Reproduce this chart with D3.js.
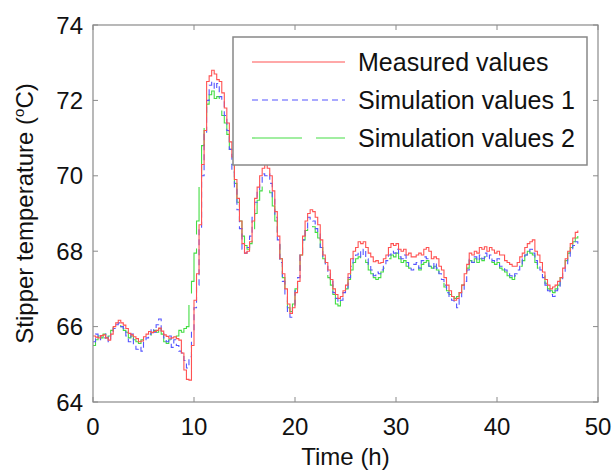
<!DOCTYPE html>
<html>
<head>
<meta charset="utf-8">
<script src="https://cdn.jsdelivr.net/npm/d3@7"></script>
<style>
  body { margin: 0; background: #fff; }
  svg { font-family: "Liberation Sans", Arial, sans-serif; }
  .tick-label { font-size: 24px; fill: #111; }
  .axis-label { font-size: 24px; fill: #111; }
  .legend-text { font-size: 25px; fill: #111; }
</style>
</head>
<body>
<div id="chart"></div>
<script>

// sampling of the three series: one value every quarter hour, from 0 h to 48 h
var startHour = 0, stepHour = 0.25;

var measured = [
  65.75, 65.72, 65.7, 65.76, 65.78, 65.7, 65.64, 65.8,
  66.0, 66.1, 66.17, 66.1, 66.04, 65.95, 65.82, 65.78,
  65.73, 65.68, 65.6, 65.62, 65.73, 65.8, 65.87, 65.84,
  65.87, 65.9, 65.96, 65.88, 65.78, 65.74, 65.69, 65.7,
  65.73, 65.68, 65.64, 65.3, 64.85, 64.6, 64.58, 65.5,
  66.7, 67.4, 68.7, 70.3, 71.2, 72.5, 72.65, 72.8,
  72.7, 72.55, 72.5, 72.2, 71.8, 71.4, 70.9, 70.5,
  69.9, 69.4, 68.8, 68.2, 67.95, 68.0, 68.25, 68.8,
  69.4, 69.7, 70.0, 70.2, 70.3, 70.2, 70.0, 69.6,
  69.05, 68.4, 67.8, 67.4, 67.0, 66.6, 66.35, 66.5,
  66.9, 67.2, 67.9, 68.4, 68.8, 69.0, 69.1, 69.05,
  68.9, 68.7, 68.3, 67.9, 67.7, 67.5, 67.25, 67.0,
  66.85, 66.75, 66.8, 66.95, 67.1, 67.4, 67.8, 68.0,
  68.1, 68.25, 68.2, 68.25, 68.1, 67.95, 67.85, 67.72,
  67.75, 67.68, 67.7, 67.8, 67.9, 68.1, 68.2, 68.15,
  68.2, 68.05, 68.0, 68.05, 67.9, 67.95, 67.85, 67.85,
  67.9, 67.95, 67.9, 68.05, 68.1, 68.0, 67.8, 67.85,
  67.8, 67.6, 67.5, 67.3, 67.1, 66.95, 66.8, 66.7,
  66.75, 66.9, 67.1, 67.4, 67.65, 67.95, 67.9, 68.0,
  67.95, 68.1, 68.05, 68.12, 68.0, 68.1, 68.03, 67.95,
  68.0, 67.9, 67.9, 67.75, 67.7, 67.65, 67.6, 67.6,
  67.7, 67.85, 67.95, 68.1, 68.2, 68.25, 68.3, 68.0,
  67.9, 67.7, 67.45, 67.25, 67.1, 67.0, 67.05, 67.1,
  67.2, 67.3, 67.55, 67.8, 68.0, 68.2, 68.35, 68.5,
  68.55
];

var simulation1 = [
  65.6, 65.8, 65.65, 65.75, 65.7, 65.8, 65.6, 65.85,
  65.95, 66.05, 66.1, 66.0, 65.95, 65.75, 65.6, 65.8,
  65.5, 65.4, 65.45, 65.35, 65.6, 65.7, 65.8, 65.95,
  65.85, 66.05, 66.2, 65.85, 65.7, 65.6, 65.75, 65.45,
  65.65, 65.5, 65.35, 65.3, 65.1, 64.9, 65.2, 65.9,
  66.5, 67.1, 68.6, 70.0, 71.1, 72.0, 72.4, 72.5,
  72.3, 72.45, 72.1, 72.0, 71.6, 71.2, 70.7, 70.1,
  69.7, 69.1, 68.6, 68.05, 67.95, 68.1, 68.4, 68.9,
  69.3, 69.6, 69.8, 70.05, 70.0, 70.05, 69.8, 69.4,
  68.9, 68.3, 67.7, 67.2, 66.8, 66.4, 66.25, 66.5,
  66.95, 67.3, 67.9, 68.3, 68.6, 68.9, 68.85, 68.8,
  68.6, 68.5, 68.1, 67.8, 67.6, 67.4, 67.2, 66.9,
  66.75, 66.65, 66.7, 66.9, 67.0, 67.3, 67.6, 67.8,
  67.9, 68.0, 67.85, 68.05, 67.8, 67.65, 67.5, 67.35,
  67.45, 67.4, 67.5, 67.6, 67.75, 67.9, 68.0, 67.95,
  68.05, 67.85, 67.8, 67.9, 67.7, 67.6, 67.5, 67.65,
  67.7, 67.55, 67.75, 67.85, 67.8, 67.6, 67.55, 67.7,
  67.55, 67.4, 67.25, 67.1, 66.9, 66.8, 66.7, 66.6,
  66.5, 66.75, 66.95, 67.2, 67.5, 67.8, 67.7, 67.85,
  67.75, 67.9, 67.8, 67.95, 67.8, 67.9, 67.75, 67.7,
  67.8, 67.6, 67.55, 67.5, 67.4, 67.35, 67.3, 67.4,
  67.5, 67.6, 67.8, 67.9, 68.0, 68.05, 67.95, 67.75,
  67.6, 67.5, 67.3, 67.1, 66.95, 66.85, 66.8, 66.95,
  67.0, 67.2, 67.45, 67.6, 67.85, 68.0, 68.15, 68.25,
  68.2
];

var simulation2 = [
  65.5, 65.65, 65.75, 65.7, 65.8, 65.7, 65.75, 65.9,
  66.0, 66.1, 66.05, 66.0, 65.9, 65.85, 65.7, 65.75,
  65.65, 65.6, 65.55, 65.65, 65.7, 65.8, 65.75, 65.85,
  65.9, 65.85, 65.95, 65.8, 65.6, 65.55, 65.65, 65.8,
  65.7, 65.75, 65.9, 65.85, 65.95, 66.0, 66.6, 67.2,
  67.95, 68.8, 69.9, 70.8, 71.4, 71.9, 72.15, 72.25,
  72.05, 72.1, 71.85, 71.6, 71.4, 71.1, 70.7, 70.3,
  69.8, 69.3, 68.8, 68.4, 68.15, 68.05, 68.2, 68.6,
  69.0, 69.35, 69.6, 69.7, 69.75, 69.7, 69.55, 69.2,
  68.8, 68.3, 67.8, 67.3, 66.9, 66.5, 66.4, 66.6,
  67.0, 67.4, 67.9, 68.3, 68.55, 68.7, 68.75, 68.65,
  68.5, 68.35, 68.1, 67.8, 67.55, 67.3, 67.1, 66.85,
  66.6, 66.55, 66.75, 66.85, 67.0, 67.25, 67.5, 67.7,
  67.8, 67.85, 67.8, 67.9, 67.7, 67.5, 67.4, 67.3,
  67.25, 67.3, 67.45, 67.55, 67.7, 67.8, 67.9, 67.85,
  67.95, 67.8, 67.7, 67.75, 67.6, 67.55, 67.5, 67.55,
  67.6, 67.5, 67.65, 67.7, 67.75, 67.6, 67.55, 67.6,
  67.5, 67.35, 67.2, 67.05, 66.95, 66.85, 66.8, 66.75,
  66.8, 66.9, 67.1, 67.35, 67.55, 67.75, 67.7, 67.8,
  67.7, 67.8, 67.75, 67.85, 67.75, 67.8, 67.7, 67.65,
  67.7, 67.55, 67.5, 67.45, 67.35, 67.3, 67.25, 67.35,
  67.45, 67.6, 67.75, 67.9, 68.0, 67.95, 67.9, 67.7,
  67.55, 67.45, 67.35, 67.15, 67.0, 66.95, 66.9, 67.0,
  67.1, 67.3, 67.55, 67.75, 67.95, 68.1, 68.25, 68.35,
  68.4
];

var seriesNames = ["Measured values", "Simulation values 1", "Simulation values 2"];
var seriesColors = ["#ff5252", "#5555ff", "#44dd44"];
var seriesDashes = [null, "6,4", "50,14"];

var xTicks = [0, 10, 20, 30, 40, 50];
var yTicks = [64, 66, 68, 70, 72, 74];

/////////////////////////

var W = 615, H = 473;
var margin = {top:25, right:17, bottom:71, left:93},
    width = W - margin.left - margin.right,
    height = H - margin.top - margin.bottom;

var x = d3.scaleLinear().domain([0, 50]).range([0, width]);
var y = d3.scaleLinear().domain([64, 74]).range([height, 0]);

var svg = d3.select("#chart").append("svg")
    .attr("width", W)
    .attr("height", H);

var chart = svg.append("g")
    .attr("transform", "translate(" + margin.left + "," + margin.top + ")");

// the lines (logged values are stair-stepped)
var pathline = d3.line()
    .curve(d3.curveStepAfter)
    .x(function(d){ return x(d.t); })
    .y(function(d){ return y(d.v); });

var lines = [measured, simulation1, simulation2].map(function(values, i){
  return {
    name: seriesNames[i],
    color: seriesColors[i],
    dash: seriesDashes[i],
    series: values.map(function(v, k){ return {t: startHour + k*stepHour, v: v}; })
  };
});

var lineContainer = chart.append("g");
// draw last series first so measured stays on top
lineContainer.selectAll("path").data(lines.slice().reverse()).enter().append("path")
    .attr("d", function(d){ return pathline(d.series); })
    .attr("fill", "none")
    .attr("stroke", function(d){ return d.color; })
    .attr("stroke-width", 1.1)
    .attr("stroke-dasharray", function(d){ return d.dash; });

// box + ticks on all four sides (inward)
var frameColor = "#8a8a8a", tickLen = 5;
chart.append("rect")
    .attr("x", 0).attr("y", 0)
    .attr("width", width).attr("height", height)
    .attr("fill", "none")
    .attr("stroke", frameColor)
    .attr("stroke-width", 1.2);

var axisG = chart.append("g").attr("stroke", frameColor).attr("stroke-width", 1);
xTicks.forEach(function(t){
  axisG.append("line").attr("x1", x(t)).attr("x2", x(t)).attr("y1", height).attr("y2", height - tickLen);
  axisG.append("line").attr("x1", x(t)).attr("x2", x(t)).attr("y1", 0).attr("y2", tickLen);
});
yTicks.forEach(function(v){
  axisG.append("line").attr("x1", 0).attr("x2", tickLen).attr("y1", y(v)).attr("y2", y(v));
  axisG.append("line").attr("x1", width).attr("x2", width - tickLen).attr("y1", y(v)).attr("y2", y(v));
});

// tick labels
chart.selectAll(".xlab").data(xTicks).enter().append("text")
    .attr("class", "tick-label")
    .attr("x", function(d){ return x(d); })
    .attr("y", height + 33)
    .attr("text-anchor", "middle")
    .text(function(d){ return d; });

chart.selectAll(".ylab").data(yTicks).enter().append("text")
    .attr("class", "tick-label")
    .attr("x", -10)
    .attr("y", function(d){ return y(d) + 8.5; })
    .attr("text-anchor", "end")
    .text(function(d){ return d; });

// axis labels
chart.append("text")
    .attr("class", "axis-label")
    .attr("x", width/2)
    .attr("y", height + 63)
    .attr("text-anchor", "middle")
    .text("Time (h)");

var ylab = chart.append("text")
    .attr("class", "axis-label")
    .attr("transform", "translate(" + (-60) + "," + (height/2) + ") rotate(-90)")
    .attr("text-anchor", "middle");
ylab.append("tspan").text("Stipper temperature (");
ylab.append("tspan").attr("font-size", "15px").attr("dy", -9).text("o");
ylab.append("tspan").attr("dy", 9).text("C)");

// legend
var legend = chart.append("g").attr("transform", "translate(" + (233 - margin.left) + "," + (37 - margin.top) + ")");
legend.append("rect")
    .attr("width", 354).attr("height", 128)
    .attr("fill", "#fff")
    .attr("stroke", "#888")
    .attr("stroke-width", 1.5);

var rows = legend.selectAll(".row").data(lines).enter().append("g")
    .attr("transform", function(d, i){ return "translate(0," + (25 + i*38) + ")"; });
rows.append("line")
    .attr("x1", 19).attr("x2", 112)
    .attr("stroke", function(d){ return d.color; })
    .attr("stroke-width", 1.1)
    .attr("stroke-dasharray", function(d){ return d.dash; });
rows.append("text")
    .attr("class", "legend-text")
    .attr("x", 125)
    .attr("y", 8.5)
    .text(function(d){ return d.name; });

</script>
</body>
</html>
